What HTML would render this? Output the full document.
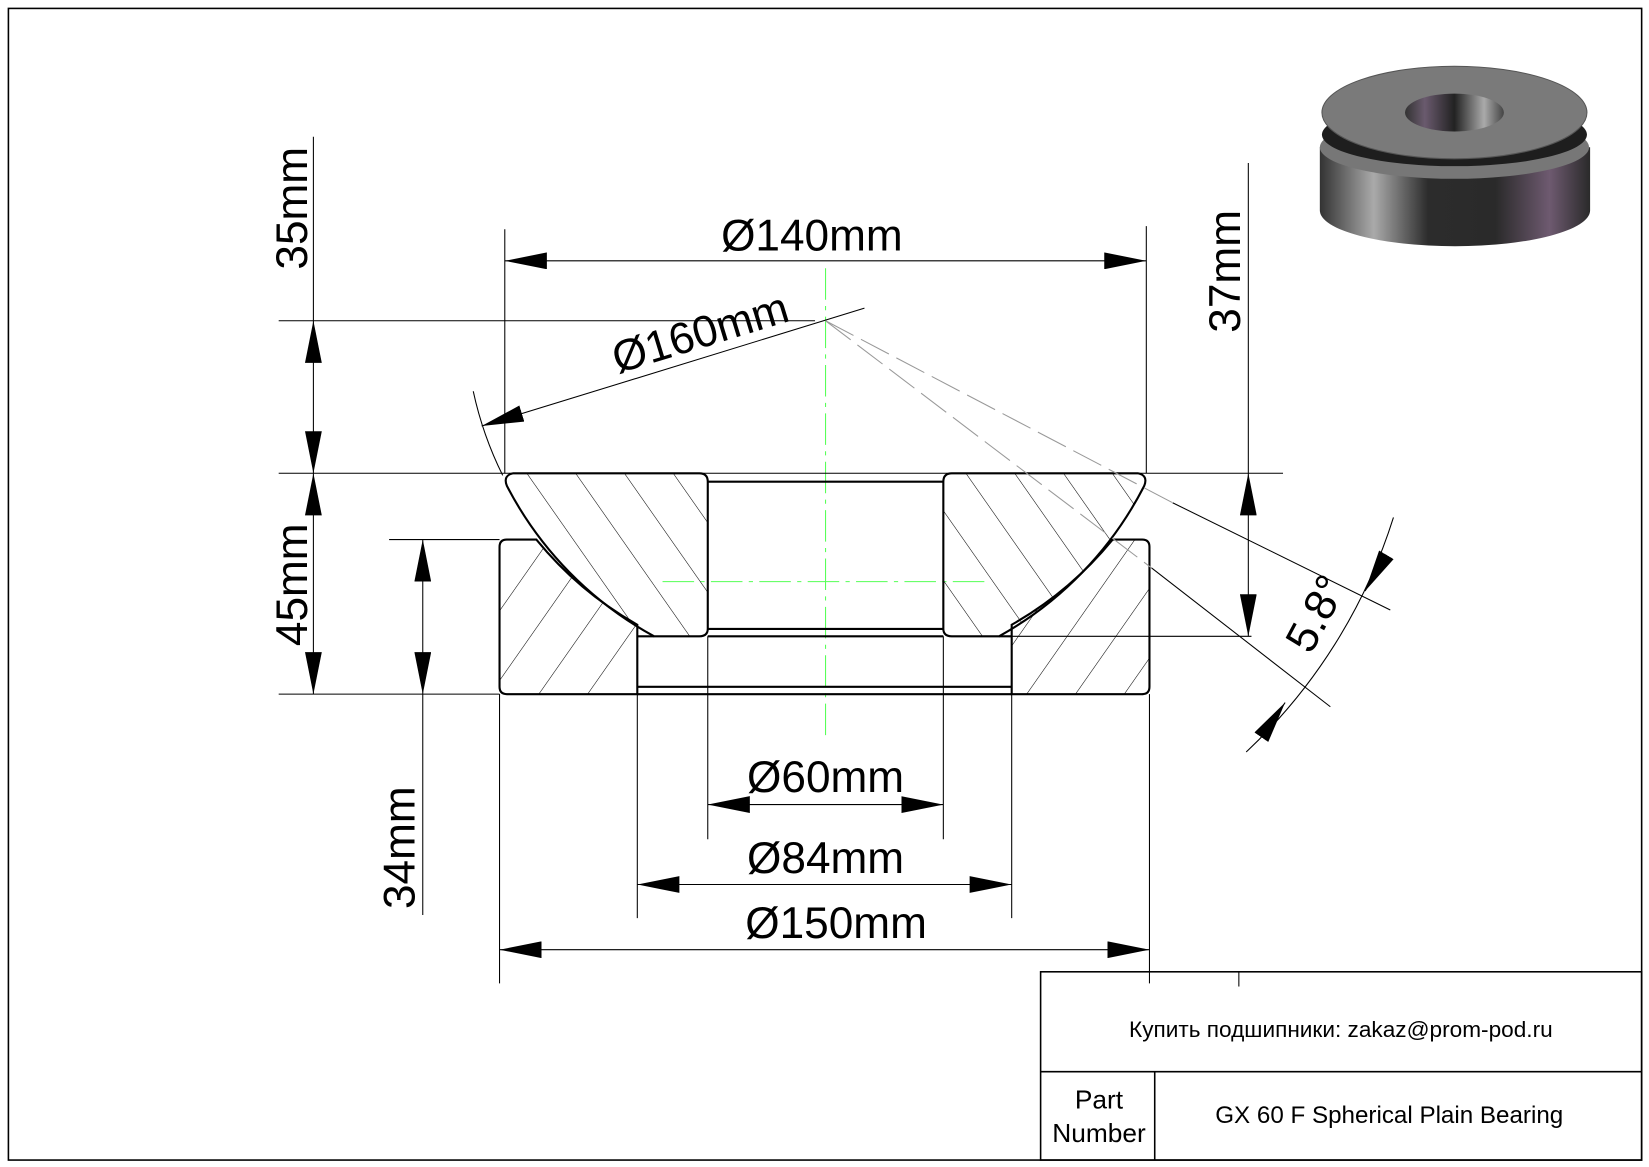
<!DOCTYPE html>
<html><head><meta charset="utf-8"><style>html,body{margin:0;padding:0;background:#fff}svg{display:block}</style></head><body>
<svg width="1649" height="1167" viewBox="0 0 1568 1109.6" preserveAspectRatio="none" xmlns="http://www.w3.org/2000/svg" font-family="Liberation Sans, sans-serif">
<defs>
<marker id="a" viewBox="0 0 20 8" refX="20" refY="4" markerWidth="40" markerHeight="16" markerUnits="userSpaceOnUse" orient="auto-start-reverse"><path d="M20,4 L0,0 L0,8 Z" fill="#000"/></marker>
<pattern id="h1" width="38" height="38" patternUnits="userSpaceOnUse" patternTransform="rotate(-35)"><line x1="0" y1="0" x2="0" y2="38" stroke="#000" stroke-width="1"/></pattern>
<pattern id="h2" width="38" height="38" patternUnits="userSpaceOnUse" patternTransform="rotate(35)"><line x1="0" y1="0" x2="0" y2="38" stroke="#000" stroke-width="1"/></pattern>
<linearGradient id="side" x1="0" x2="1"><stop offset="0" stop-color="#333"/><stop offset=".2" stop-color="#aaa"/><stop offset=".4" stop-color="#2c2c2c"/><stop offset=".65" stop-color="#2a2a2a"/><stop offset=".85" stop-color="#6e5a70"/><stop offset="1" stop-color="#2a2a2a"/></linearGradient>
<linearGradient id="hole" x1="0" x2="1"><stop offset="0" stop-color="#333"/><stop offset=".2" stop-color="#6a5a6e"/><stop offset=".5" stop-color="#222"/><stop offset=".8" stop-color="#aaa"/><stop offset="1" stop-color="#444"/></linearGradient>
</defs>
<rect x="8" y="8" width="1553" height="1095" fill="none" stroke="#000" stroke-width="1.5"/>

<path d="M1255,140 L1255,200 A128,34 0 0 0 1512,200 L1512,140 Z" fill="url(#side)"/>
<ellipse cx="1383" cy="140" rx="128" ry="30" fill="#777"/>
<ellipse cx="1383" cy="128" rx="126" ry="30" fill="#1e1e1e"/>
<ellipse cx="1383" cy="107" rx="126" ry="44" fill="#7a7a7a" stroke="#555"/>
<ellipse cx="1383" cy="107" rx="47" ry="18" fill="url(#hole)"/>

<line x1="785" y1="255" x2="785" y2="700" stroke="#5f5" stroke-width="1" stroke-dasharray="30,6,4,6"/>
<line x1="630" y1="553" x2="940" y2="553" stroke="#5f5" stroke-width="1" stroke-dasharray="30,6,4,6"/>

<path d="M475,520 Q475,513 482,513 L510,513 A342,342 0 0 0 606,594 L606,660 L482,660 Q475,660 475,653 Z" fill="url(#h2)" stroke="#000" stroke-width="2"/>
<path d="M1093,520 Q1093,513 1086,513 L1058,513 A342,342 0 0 1 962,594 L962,660 L1086,660 Q1093,660 1093,653 Z" fill="url(#h2)" stroke="#000" stroke-width="2"/>
<line x1="606" y1="653" x2="962" y2="653" stroke="#000" stroke-width="2"/>
<line x1="606" y1="660" x2="962" y2="660" stroke="#000" stroke-width="2"/>
<line x1="606" y1="605" x2="622" y2="605" stroke="#000" stroke-width="2"/>
<line x1="950" y1="605" x2="962" y2="605" stroke="#000" stroke-width="2"/>

<path d="M488,450 L665,450 Q673,450 673,458 L673,598 Q673,605 665,605 L622,605 A342,342 0 0 1 482,462 Q478,452 488,450 Z" fill="url(#h1)" stroke="#000" stroke-width="2"/>
<path d="M1082,450 L905,450 Q897,450 897,458 L897,598 Q897,605 905,605 L950,605 A342,342 0 0 0 1088,462 Q1092,452 1082,450 Z" fill="url(#h1)" stroke="#000" stroke-width="2"/>
<line x1="673" y1="458" x2="897" y2="458" stroke="#000" stroke-width="2"/>
<line x1="673" y1="598" x2="897" y2="598" stroke="#000" stroke-width="2"/>
<line x1="673" y1="605" x2="897" y2="605" stroke="#000" stroke-width="2"/>

<g stroke="#000" stroke-width="1" fill="none">
<line x1="265" y1="305" x2="775" y2="305"/>
<line x1="265" y1="450" x2="1220" y2="450"/>
<line x1="265" y1="660" x2="475" y2="660"/>
<line x1="370" y1="513" x2="475" y2="513"/>
<line x1="950" y1="605" x2="1190" y2="605"/>
<line x1="480" y1="218" x2="480" y2="450"/>
<line x1="1090" y1="215" x2="1090" y2="450"/>
<line x1="673" y1="605" x2="673" y2="798"/>
<line x1="897" y1="605" x2="897" y2="798"/>
<line x1="606" y1="660" x2="606" y2="873"/>
<line x1="962" y1="660" x2="962" y2="873"/>
<line x1="475" y1="660" x2="475" y2="935"/>
<line x1="1093" y1="660" x2="1093" y2="935"/>
<line x1="298" y1="130" x2="298" y2="305"/>
<line x1="402" y1="660" x2="402" y2="870"/>
<line x1="1187" y1="155" x2="1187" y2="450"/>
<line x1="480" y1="248" x2="1090" y2="248" marker-start="url(#a)" marker-end="url(#a)"/>
<line x1="673" y1="765" x2="897" y2="765" marker-start="url(#a)" marker-end="url(#a)"/>
<line x1="606" y1="841" x2="962" y2="841" marker-start="url(#a)" marker-end="url(#a)"/>
<line x1="475" y1="903" x2="1093" y2="903" marker-start="url(#a)" marker-end="url(#a)"/>
<line x1="298" y1="305" x2="298" y2="450" marker-start="url(#a)" marker-end="url(#a)"/>
<line x1="298" y1="450" x2="298" y2="660" marker-start="url(#a)" marker-end="url(#a)"/>
<line x1="402" y1="513" x2="402" y2="660" marker-start="url(#a)" marker-end="url(#a)"/>
<line x1="1187" y1="450" x2="1187" y2="605" marker-start="url(#a)" marker-end="url(#a)"/>
<line x1="822" y1="293" x2="458" y2="405" marker-end="url(#a)"/>
<path d="M450,372 A342,342 0 0 0 478,452"/>
<line x1="1115" y1="478" x2="1322" y2="580"/>
<line x1="1095" y1="540" x2="1265" y2="672"/>
<path d="M1325,492 A520,520 0 0 1 1185,715"/>
<line x1="1318" y1="528" x2="1298" y2="562" marker-end="url(#a)"/>
<line x1="1200" y1="700" x2="1222" y2="668" marker-end="url(#a)"/>
</g>
<g stroke="#999" stroke-width="1" stroke-dasharray="30,8">
<line x1="785" y1="305" x2="1115" y2="478"/>
<line x1="785" y1="305" x2="1095" y2="540"/>
</g>

<g font-size="42" fill="#000">
<text x="772" y="238" text-anchor="middle">Ø140mm</text>
<text x="0" y="0" text-anchor="middle" transform="translate(670,330) rotate(-17)">Ø160mm</text>
<text x="785" y="753" text-anchor="middle">Ø60mm</text>
<text x="785" y="830" text-anchor="middle">Ø84mm</text>
<text x="795" y="892" text-anchor="middle">Ø150mm</text>
<text x="0" y="0" text-anchor="middle" transform="translate(292,198) rotate(-90)">35mm</text>
<text x="0" y="0" text-anchor="middle" transform="translate(292,556) rotate(-90)">45mm</text>
<text x="0" y="0" text-anchor="middle" transform="translate(394,806) rotate(-90)">34mm</text>
<text x="0" y="0" text-anchor="middle" transform="translate(1179,258) rotate(-90)">37mm</text>
<text x="0" y="0" text-anchor="middle" transform="translate(1264,590) rotate(-62)">5.8°</text>
</g>

<g stroke="#000" stroke-width="1.5" fill="none">
<rect x="989.5" y="924" width="571.5" height="179"/>
<line x1="989.5" y1="1019" x2="1561" y2="1019"/>
<line x1="1098" y1="1019" x2="1098" y2="1103"/>
<line x1="1178" y1="924" x2="1178" y2="938" stroke-width="1"/>
</g>
<text x="1275" y="986" font-size="21.5" text-anchor="middle">Купить подшипники: zakaz@prom-pod.ru</text>
<text x="1321" y="1068" font-size="23" text-anchor="middle">GX 60 F Spherical Plain Bearing</text>
<text x="1045" y="1054" font-size="25" text-anchor="middle">Part</text>
<text x="1045" y="1086" font-size="25" text-anchor="middle">Number</text>
</svg>
</body></html>
